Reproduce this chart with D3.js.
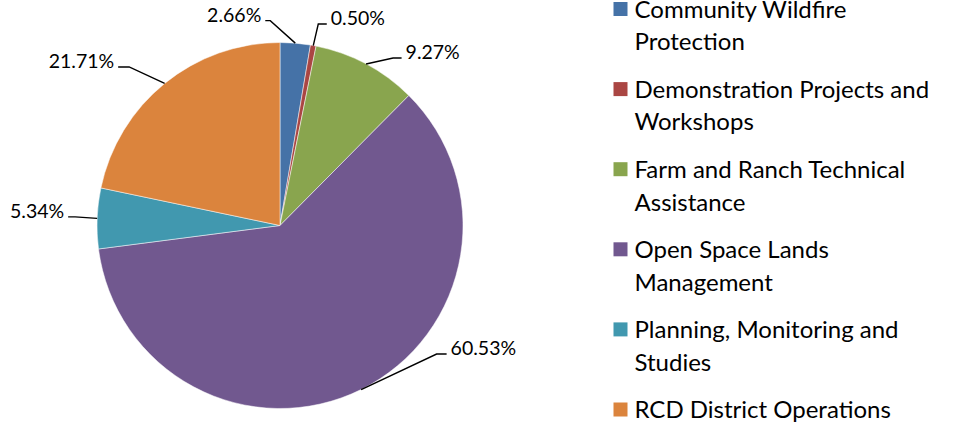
<!DOCTYPE html>
<head>
  <meta charset="utf-8">
  <title>Program Spending Share</title>
  <style>
    body { margin: 0; background: #fff; }
    svg { display: block; }
  </style>
</head>
<body>
  <svg id="chart" width="954" height="427"></svg>
  <script src="https://cdnjs.cloudflare.com/ajax/libs/d3/7.8.5/d3.min.js"></script>
  <script>
    /******* Data *******/
    var categories = [
      "Community Wildfire Protection",
      "Demonstration Projects and Workshops",
      "Farm and Ranch Technical Assistance",
      "Open Space Lands Management",
      "Planning, Monitoring and Studies",
      "RCD District Operations"
    ];
    var shares = [2.66, 0.50, 9.27, 60.53, 5.34, 21.71];
    // legend entries wrapped the way the original shows them
    var legendLines = [
      ["Community Wildfire", "Protection"],
      ["Demonstration Projects and", "Workshops"],
      ["Farm and Ranch Technical", "Assistance"],
      ["Open Space Lands", "Management"],
      ["Planning, Monitoring and", "Studies"],
      ["RCD District Operations"]
    ];
    var colors = ["#4572A7", "#AA4643", "#89A54E", "#71588F", "#4198AF", "#DB843D"];

    // leader line layout: elbow offset from the slice edge, then horizontal leg
    var leaders = [
      {dx: -25, dy: -22.5, leg: -5},
      {dx: 5, dy: -21.5, leg: 8.5},
      {dx: 27, dy: -6, leg: 8.5},
      {dx: 75.5, dy: -35.5, leg: 10},
      {dx: -22, dy: -1.5, leg: -7},
      {dx: -35.5, dy: -16.5, leg: -11}
    ];

    /******* Setup *******/
    var svg = d3.select("#chart"),
        cx = 280, cy = 225.5, radius = 183,
        font = "Lato, 'Open Sans', sans-serif";

    var pie = d3.pie().sort(null).value(function(d) { return d; });
    var arcs = pie(shares);
    var arc = d3.arc().innerRadius(0).outerRadius(radius);

    var graph = svg.append("g")
      .attr("transform", "translate(" + cx + "," + cy + ")");

    //Slices
    graph.selectAll("path.slice")
      .data(arcs)
      .enter().append("path")
      .attr("class", "slice")
      .attr("d", arc)
      .attr("fill", function(d, i) { return colors[i]; })
      .attr("stroke", "#fff")
      .attr("stroke-width", 0.5);

    //Data labels with leader lines
    function edgePoint(d) {
      var a = (d.startAngle + d.endAngle) / 2;
      return [radius * Math.sin(a), -radius * Math.cos(a)];
    }

    var labels = graph.selectAll("g.label")
      .data(arcs)
      .enter().append("g")
      .attr("class", "label");

    labels.append("polyline")
      .attr("points", function(d, i) {
        var p = edgePoint(d), L = leaders[i];
        var e = [p[0] + L.dx, p[1] + L.dy];
        return [p, e, [e[0] + L.leg, e[1]]].map(function(q) { return q.join(","); }).join(" ");
      })
      .attr("fill", "none")
      .attr("stroke", "#000")
      .attr("stroke-width", 1.4);

    labels.append("text")
      .attr("x", function(d, i) {
        var p = edgePoint(d), L = leaders[i];
        var end = p[0] + L.dx + L.leg;
        return L.leg < 0 ? end - 4 : end + 4;
      })
      .attr("y", function(d, i) {
        return edgePoint(d)[1] + leaders[i].dy + 1;
      })
      .attr("text-anchor", function(d, i) { return leaders[i].leg < 0 ? "end" : "start"; })
      .style("font-family", font)
      .style("font-size", "19.5px")
      .attr("fill", "#000")
      .text(function(d) { return d.value.toFixed(2) + "%"; });

    /******* Legend *******/
    var legend = svg.append("g")
      .selectAll("g")
      .data(categories)
      .enter().append("g")
      .attr("transform", function(d, i) {
        return "translate(613.5," + (17.8 + i * 80.1) + ")";
      });

    legend.append("rect")
      .attr("x", 0)
      .attr("y", -15.8)
      .attr("width", 14)
      .attr("height", 14)
      .attr("fill", function(d, i) { return colors[i]; });

    legend.append("text")
      .style("font-family", font)
      .style("font-size", "24px")
      .attr("fill", "#000")
      .each(function(d, i) {
        var el = d3.select(this);
        legendLines[i].forEach(function(line, j) {
          el.append("tspan")
            .attr("x", 21)
            .attr("y", j * 32.5)
            .text(line);
        });
      });
  </script>
</body>
